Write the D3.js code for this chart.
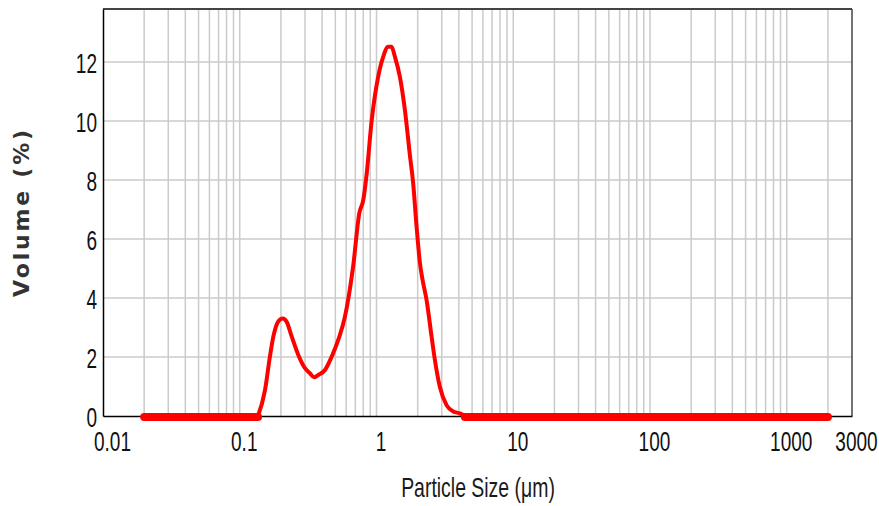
<!DOCTYPE html>
<html>
<head>
<meta charset="utf-8">
<script src="https://cdn.jsdelivr.net/npm/d3@7"></script>
<style>
  html, body { margin: 0; padding: 0; background: #fff; }
  svg { display: block; }
</style>
</head>
<body>
<div id="chart"></div>
<script>
// Particle size distribution
const sizes = [0.02, 0.136, 0.153, 0.166, 0.176, 0.191, 0.206, 0.220, 0.240, 0.268,
  0.300, 0.326, 0.349, 0.375, 0.420, 0.470, 0.525, 0.588, 0.676,
  0.748, 0.800, 0.847, 0.921, 1.028, 1.119, 1.218, 1.289, 1.364, 1.483,
  1.614, 1.754, 1.854, 1.964, 2.076, 2.173, 2.324, 2.529, 2.673, 2.905,
  3.252, 3.638, 4.07, 4.43, 2000];
const volumes = [0, 0, 0.88, 2.0, 2.69, 3.2, 3.31, 3.2, 2.69, 2.07,
  1.62, 1.45, 1.31, 1.39, 1.56, 2.01, 2.58, 3.37, 5.1,
  6.87, 7.32, 8.2, 10.0, 11.5, 12.18, 12.52, 12.52, 12.18, 11.5,
  10.37, 8.85, 7.89, 6.42, 5.2, 4.61, 3.93, 2.69, 1.9, 0.99,
  0.37, 0.15, 0.09, 0, 0];

const xTicks = [0.01, 0.1, 1, 10, 100, 1000, 3000];
const yTicks = [0, 2, 4, 6, 8, 10, 12];
const xDomain = [0.01, 3000];
const yDomain = [0, 13.8];

const width = 879;
const height = 506;
const margin = { top: 9, right: 27, bottom: 90, left: 103 };

const svg = d3.select('#chart')
  .append('svg')
  .attr('width', width)
  .attr('height', height);

const x = d3.scaleLog().domain(xDomain).range([margin.left, width - margin.right]);
const y = d3.scaleLinear().domain(yDomain).range([height - margin.bottom, margin.top]);

const data = sizes.map((s, i) => ({ size: s, vol: volumes[i] }));

// minor grid: 1..9 in every decade
const gridX = [];
for (let e = -2; e <= 3; e++) {
  for (let m = 1; m <= 9; m++) {
    const v = m * Math.pow(10, e);
    if (v > xDomain[0] && v < xDomain[1]) gridX.push(v);
  }
}

svg.append('g')
  .selectAll('line')
  .data(gridX)
  .join('line')
  .attr('x1', d => x(d)).attr('x2', d => x(d))
  .attr('y1', y(yDomain[0])).attr('y2', y(yDomain[1]))
  .attr('stroke', '#cbcbcb')
  .attr('stroke-width', 1.5);

svg.append('g')
  .selectAll('line')
  .data(yTicks.filter(d => d > 0))
  .join('line')
  .attr('x1', x(xDomain[0])).attr('x2', x(xDomain[1]))
  .attr('y1', d => y(d)).attr('y2', d => y(d))
  .attr('stroke', '#cbcbcb')
  .attr('stroke-width', 1.5);

// frame: top/right grey, left/bottom black
svg.append('line')
  .attr('x1', x(xDomain[0])).attr('x2', x(xDomain[1]))
  .attr('y1', y(yDomain[1])).attr('y2', y(yDomain[1]))
  .attr('stroke', '#444').attr('stroke-width', 2);
svg.append('line')
  .attr('x1', x(xDomain[1])).attr('x2', x(xDomain[1]))
  .attr('y1', y(yDomain[1])).attr('y2', y(yDomain[0]))
  .attr('stroke', '#444').attr('stroke-width', 1.5);

const labelFont = '"Liberation Sans", Arial, sans-serif';
const squeeze = 0.68;

const xAxis = svg.append('g')
  .attr('transform', `translate(0,${y(0)})`)
  .call(d3.axisBottom(x).tickValues(xTicks).tickFormat(d => String(d)).tickSize(0));
xAxis.select('.domain').attr('stroke', '#000').attr('stroke-width', 1.5);
xAxis.selectAll('text')
  .attr('font-family', labelFont)
  .attr('font-size', 28)
  .attr('fill', '#111')
  .attr('y', 35)
  .attr('dy', 0)
  // first label sits a little inside the corner
  .attr('x', (d, i) => (i === 0 ? 9 : 4) / squeeze)
  .attr('transform', `scale(${squeeze},1)`);

const yAxis = svg.append('g')
  .attr('transform', `translate(${x(xDomain[0])},0)`)
  .call(d3.axisLeft(y).tickValues(yTicks).tickFormat(d3.format('d')).tickSize(0));
yAxis.select('.domain').attr('stroke', '#000').attr('stroke-width', 1.5);
yAxis.selectAll('text')
  .attr('font-family', labelFont)
  .attr('font-size', 28)
  .attr('fill', '#111')
  .attr('x', -6 / squeeze)
  .attr('dy', 10)
  .attr('transform', `scale(${squeeze},1)`);

// zero stretches are drawn heavy, like the instrument software does
const zeroRuns = [];
for (let i = 0; i < data.length - 1; i++) {
  if (data[i].vol === 0 && data[i + 1].vol === 0) zeroRuns.push([data[i], data[i + 1]]);
}
svg.append('g')
  .selectAll('line')
  .data(zeroRuns)
  .join('line')
  .attr('x1', d => x(d[0].size)).attr('x2', d => x(d[1].size))
  .attr('y1', d => y(d[0].vol) + 1).attr('y2', d => y(d[1].vol) + 1)
  .attr('stroke', '#ff0000')
  .attr('stroke-width', 8)
  .attr('stroke-linecap', 'round');

const line = d3.line()
  .x(d => x(d.size))
  .y(d => y(d.vol))
  .curve(d3.curveMonotoneX);

svg.append('path')
  .datum(data.filter(d => d.size > 0.1 && d.size < 5))
  .attr('d', line)
  .attr('fill', 'none')
  .attr('stroke', '#ff0000')
  .attr('stroke-width', 4)
  .attr('stroke-linejoin', 'round');

// axis titles
svg.append('text')
  .attr('transform', `translate(478,497) scale(0.72,1)`)
  .attr('text-anchor', 'middle')
  .attr('font-family', labelFont)
  .attr('font-size', 27)
  .attr('fill', '#1a1a1a')
  .text('Particle Size (μm)');

svg.append('text')
  .attr('transform', 'translate(29,212) rotate(-90)')
  .attr('text-anchor', 'middle')
  .attr('font-family', '"DejaVu Sans", Verdana, sans-serif')
  .attr('font-weight', 'bold')
  .attr('font-size', 22)
  .attr('letter-spacing', 2.8)
  .attr('fill', '#333')
  .text('Volume (%)');
</script>
</body>
</html>
